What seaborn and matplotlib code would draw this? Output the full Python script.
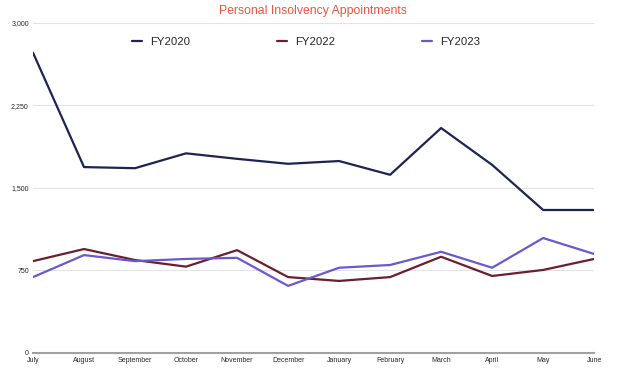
import pandas as pd
import matplotlib
matplotlib.use("Agg")
import matplotlib.pyplot as plt
import seaborn as sns

# Monthly values
months = ["July", "August", "September", "October", "November", "December",
          "January", "February", "March", "April", "May", "June"]
fy2020 = [2730, 1690, 1680, 1815, 1765, 1720, 1745, 1620, 2045, 1710, 1300, 1300]
fy2022 = [835, 945, 845, 785, 935, 690, 655, 690, 875, 700, 755, 855]
fy2023 = [690, 890, 835, 855, 865, 610, 775, 800, 920, 775, 1045, 900]

series = ["FY2020", "FY2022", "FY2023"]
colors = ["#1c2452", "#6b1f2c", "#6a58cf"]

df = pd.DataFrame({
    "month": months * 3,
    "pos": list(range(len(months))) * 3,
    "value": fy2020 + fy2022 + fy2023,
    "year": ["FY2020"] * 12 + ["FY2022"] * 12 + ["FY2023"] * 12,
})

sns.set_style("white")
plt.rcParams["font.family"] = ["Liberation Sans", "DejaVu Sans"]

fig = plt.figure(figsize=(6.17, 3.75), dpi=100)
ax = fig.add_axes([0.0535, 0.0587, 0.9095, 0.88])

sns.lineplot(data=df, x="pos", y="value", hue="year", hue_order=series,
             palette=colors, linewidth=1.6, ax=ax, legend=False)

ax.set_xlim(0, len(months) - 1)
ax.set_ylim(0, 3000)
ax.set_yticks([0, 750, 1500, 2250, 3000])
ax.set_yticklabels(["0", "750", "1,500", "2,250", "3,000"], fontsize=5)
ax.set_xticks(range(len(months)))
ax.set_xticklabels(months, fontsize=5)
ax.tick_params(axis="both", length=0, pad=3)
ax.set_xlabel("")
ax.set_ylabel("")

ax.grid(axis="y", color="#e3e3e3", linewidth=0.8)
ax.grid(axis="x", visible=False)
for s in ["top", "right", "left"]:
    ax.spines[s].set_visible(False)
ax.spines["bottom"].set_color("#a0a0a0")
ax.spines["bottom"].set_linewidth(1.5)
ax.set_axisbelow(True)

fig.text(0.507, 0.97, "Personal Insolvency Appointments", color="#e8553f",
         fontsize=8.8, ha="center", va="center")

# legend
handles = [plt.Line2D([], [], color=c, linewidth=1.6) for c in colors]
fig.legend(handles, series, loc="center", bbox_to_anchor=(0.496, 0.888), ncol=3,
           frameon=False, fontsize=8.2, handlelength=0.9, columnspacing=7.6,
           handletextpad=0.7)

fig.savefig("out.png", dpi=100)
